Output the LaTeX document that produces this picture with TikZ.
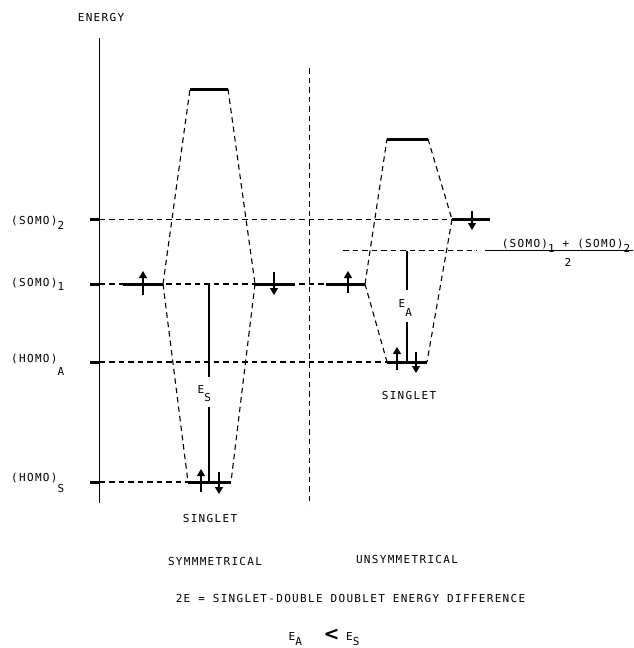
\documentclass[tikz,border=0pt]{standalone}
\usepackage{fontspec}
\usetikzlibrary{arrows.meta}
\newfontfamily\plotf[LetterSpace=12]{DejaVu Sans Mono}
\newfontfamily\symf{DejaVu Sans}
\newcommand\lowr[2]{\raisebox{-#1pt}{#2}}
\begin{document}
\begin{tikzpicture}[x=1pt,y=-1pt,
  txt/.style={inner sep=0pt, anchor=base, font=\plotf\fontsize{11}{13}\selectfont},
  bar/.style={line width=3pt},
  dsh/.style={line width=1.1pt, dash pattern=on 5.5pt off 4pt},
  elec/.style={line width=1.3pt, -{Triangle[width=8pt,length=7pt]}},
  eline/.style={line width=1.3pt},
  axis/.style={line width=1.4pt},
  tick/.style={line width=3pt}]
\fill[white] (0,0) rectangle (634,648);
\useasboundingbox (0,0) rectangle (634,648);

% axis
\coordinate (axtop) at (99.5,38);
\coordinate (axbot) at (99.5,503);
\draw[axis] (axtop) -- (axbot);
\node[txt] (energy) at (101,21) {ENERGY};

% tick marks
\coordinate (t2) at (90,219.5);
\coordinate (t1) at (90,284);
\coordinate (tA) at (90,362);
\coordinate (tS) at (90,482);
\foreach \t in {t2,t1,tA,tS} \draw[tick] (\t) -- (\t -| axtop);

% level labels
\node[txt, anchor=base west] (lS2) at (11,224.5) {(SOMO)\lowr{4.5}{2}};
\node[txt, anchor=base west] (lS1) at (11,286) {(SOMO)\lowr{4.5}{1}};
\node[txt, anchor=base west] (lHA) at (11,362.6) {(HOMO)\lowr{12.5}{A}};
\node[txt, anchor=base west] (lHS) at (11,481.5) {(HOMO)\lowr{10.5}{S}};

% bar end points
\coordinate (L1a) at (123,284); \coordinate (L1b) at (163,284);
\coordinate (T1a) at (190,89);  \coordinate (T1b) at (228,89);
\coordinate (R1a) at (255,284); \coordinate (R1b) at (295,284);
\coordinate (B1a) at (188,482); \coordinate (B1b) at (231,482);
\coordinate (L2a) at (326,284); \coordinate (L2b) at (365,284);
\coordinate (T2a) at (387,139); \coordinate (T2b) at (428,139);
\coordinate (R2a) at (452,219.5); \coordinate (R2b) at (490,219.5);
\coordinate (B2a) at (387,362); \coordinate (B2b) at (427,362);

% horizontal dashed reference lines
\draw[dsh] (t2 -| axtop) -- (R2a);
\draw[dsh] (t1 -| axtop) -- (L2a);
\draw[dsh] (tA -| axtop) -- (B2a);
\draw[dsh] (tS -| axtop) -- (B1a);
\coordinate (m0) at (343,250.5); \coordinate (m1) at (477,250.5);
\draw[dsh] (m0) -- (m1);

% separator
\coordinate (sep0) at (309.5,68); \coordinate (sep1) at (309.5,505);
\draw[dsh] (sep0) -- (sep1);

% correlation lines
\draw[dsh] (L1b) -- (T1a);
\draw[dsh] (T1b) -- (R1a);
\draw[dsh] (L1b) -- (B1a);
\draw[dsh] (R1a) -- (B1b);
\draw[dsh] (L2b) -- (T2a);
\draw[dsh] (T2b) -- (R2a);
\draw[dsh] (L2b) -- (B2a);
\draw[dsh] (R2a) -- (B2b);

% levels
\draw[bar] (L1a) -- (L1b);
\draw[bar] (T1a) -- (T1b);
\draw[bar] (R1a) -- (R1b);
\draw[bar] (B1a) -- (B1b);
\draw[bar] (L2a) -- (L2b);
\draw[bar] (T2a) -- (T2b);
\draw[bar] (R2a) -- (R2b);
\draw[bar] (B2a) -- (B2b);

% electrons
\draw[elec] (143,295) -- (143,271);
\draw[elec] (274,272) -- (274,295);
\draw[elec] (201,492) -- (201,469);
\draw[elec] (219,472) -- (219,494);
\draw[elec] (348,293) -- (348,271);
\draw[elec] (472,211) -- (472,230);
\draw[elec] (397,370) -- (397,347);
\draw[elec] (416,352) -- (416,373);

% E_S
\coordinate (es0) at (209,284); \coordinate (es1) at (209,377);
\coordinate (es2) at (209,407); \coordinate (es3) at (209,482);
\draw[eline] (es0) -- (es1);
\draw[eline] (es2) -- (es3);
\node[txt, anchor=base west] (ES) at (197.5,393) {E\lowr{8}{S}};

% E_A
\coordinate (ea0) at (407,250.5); \coordinate (ea1) at (407,290);
\coordinate (ea2) at (407,322); \coordinate (ea3) at (407,362);
\draw[eline] (ea0) -- (ea1);
\draw[eline] (ea2) -- (ea3);
\node[txt, anchor=base west] (EA) at (398.5,307.5) {E\lowr{8.5}{A}};

% fraction
\coordinate (f0) at (485,250.5); \coordinate (f1) at (633,250.5);
\draw[line width=1.2pt] (f0) -- (f1);
\node[txt] (num) at (566,247.5) {(SOMO)\lowr{4.5}{1} + (SOMO)\lowr{4.5}{2}};
\node[txt] (den) at (568,266.5) {2};

% captions
\node[txt] (sing1) at (210,522.5) {SINGLET};
\node[txt] (sing2) at (409,399.5) {SINGLET};
\node[txt] (sym) at (215,565) {SYMMMETRICAL};
\node[txt] (unsym) at (407,563.5) {UNSYMMETRICAL};
\node[txt] (diff) at (350.5,602.5) {2E = SINGLET-DOUBLE DOUBLET ENERGY DIFFERENCE};
\node[txt, anchor=base west] (eA) at (288.5,640) {E\lowr{5}{A}};
\node[inner sep=0pt, font=\symf\bfseries\fontsize{19}{19}\selectfont] (lt) at (331.5,635) {<};
\node[txt, anchor=base west] (eS) at (346,640) {E\lowr{5}{S}};
\end{tikzpicture}
\end{document}
